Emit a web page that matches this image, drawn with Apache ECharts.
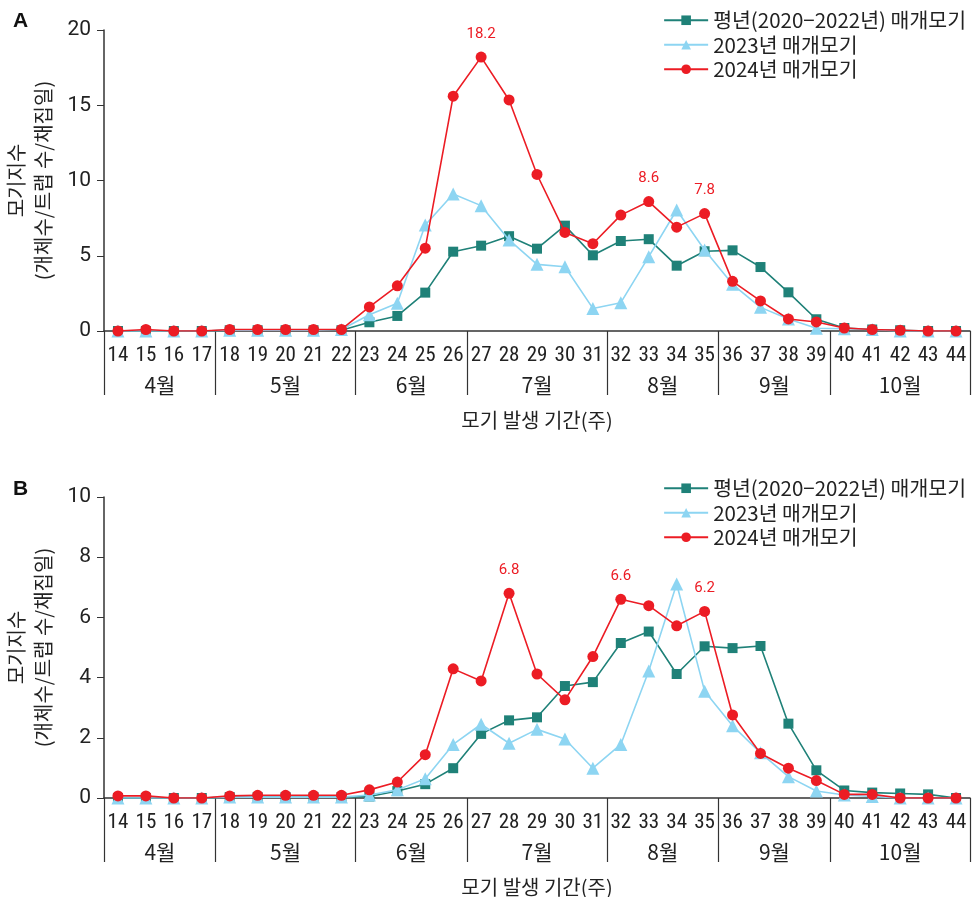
<!DOCTYPE html>
<html>
<head>
<meta charset="utf-8">
<script src="https://cdn.jsdelivr.net/npm/echarts@6/dist/echarts.min.js"></script>
<style>
  html, body { margin: 0; padding: 0; background: #fff; }
  #main { width: 973px; height: 897px; }
</style>
</head>
<body>
<div id="main"></div>
<script>
// 주차 (14~44주)
var weeks = ['14','15','16','17','18','19','20','21','22','23','24','25','26','27','28','29','30','31','32','33','34','35','36','37','38','39','40','41','42','43','44'];
// 월 구분
var monthNames = ['4월','5월','6월','7월','8월','9월','10월'];
var monthFirstWeek = [14, 18, 23, 27, 32, 36, 40];
var lastWeek = 44;

var seriesNames = ['평년(2020−2022년) 매개모기', '2023년 매개모기', '2024년 매개모기'];

// A: 모기지수
var avgA   = [0,0,0,0,0.05,0.05,0.05,0.05,0.05, 0.58,1.0,2.55,5.27,5.67,6.3,5.47,7.0,5.03,5.98,6.1,4.34,5.3,5.36,4.25,2.57,0.78,0.2,0.1,0.05,0,0];
var y2023A = [0,0,0,0,0.05,0.05,0.05,0.05,0.1, 1.08,1.84,7.04,9.1,8.33,6.05,4.43,4.27,1.5,1.88,4.94,8.04,5.38,3.1,1.57,0.8,0.18,0.15,0.1,0,0,0];
var y2024A = [0,0.1,0,0,0.1,0.1,0.1,0.1,0.1, 1.6,3.0,5.5,15.6,18.2,15.35,10.4,6.55,5.8,7.7,8.6,6.9,7.8,3.3,2.0,0.8,0.6,0.2,0.1,0.05,0,0];
var labelWeeksA = ['27','33','35'];

// B: 모기지수
var avgB   = [0,0,0,0,0.03,0.03,0.03,0.03,0.03, 0.05,0.23,0.46,0.99,2.13,2.58,2.68,3.72,3.85,5.15,5.53,4.12,5.04,4.98,5.05,2.47,0.92,0.25,0.18,0.15,0.12,0];
var y2023B = [0,0,0,0,0.03,0.03,0.03,0.03,0.03, 0.1,0.27,0.64,1.78,2.45,1.82,2.28,1.96,0.99,1.78,4.22,7.11,3.55,2.4,1.5,0.71,0.23,0.1,0.05,0,0,0];
var y2024B = [0.07,0.07,0,0,0.07,0.09,0.09,0.09,0.09, 0.27,0.53,1.44,4.29,3.89,6.8,4.12,3.26,4.7,6.6,6.39,5.72,6.2,2.76,1.48,0.99,0.58,0.12,0.12,0,0,0];
var labelWeeksB = ['28','32','35'];

var colors = ['#1f8178', '#8dd5f2', '#ec1c24'];
var symbols = ['rect', 'triangle', 'circle'];
var symbolSizes = [10, 13, 11];
var textColor = '#222';
var axisColor = '#333';
var cjk = '"Noto Sans CJK KR", "Noto Sans", sans-serif';
var narrow = '"Liberation Sans Narrow", "Roboto Condensed", Roboto, sans-serif';

// 월 경계와 월 라벨 위치 (주 단위 값축)
var monthBounds = [];
var monthCenters = [];
for (var i = 0; i < monthFirstWeek.length; i++) {
    var s = monthFirstWeek[i];
    var e = (i < monthFirstWeek.length - 1) ? monthFirstWeek[i + 1] - 1 : lastWeek;
    monthBounds.push(s - 0.5);
    monthCenters.push((s + e) / 2);
}
monthBounds.push(lastWeek + 0.5);

var option = {
    animation: false,
    backgroundColor: '#fff',
    title: [
        {text: 'A', left: 8, top: 6, textStyle: {fontSize: 21, fontWeight: 'bold', color: '#111', fontFamily: 'Arial, "Liberation Sans", sans-serif'}},
        {text: 'B', left: 8, top: 474, textStyle: {fontSize: 21, fontWeight: 'bold', color: '#111', fontFamily: 'Arial, "Liberation Sans", sans-serif'}}
    ],
    legend: [],
    grid: [],
    xAxis: [],
    yAxis: [],
    series: []
};

function makeData(values, labelWeeks) {
    var out = [];
    for (var i = 0; i < values.length; i++) {
        if (labelWeeks.indexOf(weeks[i]) >= 0) {
            out.push({value: values[i], label: {show: true}});
        } else {
            out.push(values[i]);
        }
    }
    return out;
}

function addPanel(idx, top, bottom, yMax, yInterval, dataSets, labelWeeks, legendTop) {
    option.grid.push({left: 104, right: 3, top: top, bottom: bottom, outerBoundsMode: 'none', containLabel: false});
    option.legend.push({
        orient: 'vertical',
        right: 2,
        top: legendTop,
        itemWidth: 44,
        itemHeight: 12,
        itemGap: 4,
        data: seriesNames,
        textStyle: {fontSize: 20.5, color: textColor, fontFamily: cjk}
    });
    // 주 축
    option.xAxis.push({
        type: 'category',
        gridIndex: idx,
        data: weeks,
        boundaryGap: true,
        axisLine: {lineStyle: {color: axisColor, width: 1.5}},
        axisTick: {interval: 0, length: 7, lineStyle: {color: axisColor}},
        axisLabel: {interval: 0, margin: 14, fontSize: 21, color: textColor, fontFamily: narrow}
    });
    // 월 축
    option.xAxis.push({
        type: 'value',
        gridIndex: idx,
        min: weeks[0] - 0.5,
        max: lastWeek + 0.5,
        position: 'bottom',
        axisLine: {show: false},
        splitLine: {show: false},
        axisTick: {show: true, customValues: monthBounds, length: 64, lineStyle: {color: axisColor, width: 1.2}},
        axisLabel: {
            customValues: monthCenters,
            margin: 44,
            fontSize: 21,
            color: textColor,
            fontFamily: cjk,
            formatter: function (v) {
                var k = monthCenters.indexOf(v);
                return k >= 0 ? monthNames[k] : '';
            }
        },
        name: '모기 발생 기간(주)',
        nameLocation: 'middle',
        nameGap: 79,
        nameTextStyle: {fontSize: 20, color: textColor, fontFamily: cjk}
    });
    option.yAxis.push({
        type: 'value',
        gridIndex: idx,
        min: 0,
        max: yMax,
        interval: yInterval,
        splitLine: {show: false},
        axisLine: {show: true, lineStyle: {color: axisColor, width: 1.5}},
        axisTick: {show: true, length: 7, lineStyle: {color: axisColor}},
        axisLabel: {fontSize: 21, color: textColor, margin: 13, fontFamily: 'Roboto, "Liberation Sans", sans-serif'},
        name: '모기지수\n(개체수/트랩 수/채집일)',
        nameLocation: 'middle',
        nameRotate: 90,
        nameGap: 47,
        nameTextStyle: {fontSize: 20, lineHeight: 27, color: textColor, fontFamily: cjk}
    });
    for (var s = 0; s < dataSets.length; s++) {
        option.series.push({
            name: seriesNames[s],
            type: 'line',
            xAxisIndex: idx * 2,
            yAxisIndex: idx,
            data: s == 2 ? makeData(dataSets[s], labelWeeks) : dataSets[s],
            symbol: symbols[s],
            symbolSize: symbolSizes[s],
            showAllSymbol: true,
            color: colors[s],
            lineStyle: {color: colors[s], width: 1.6},
            itemStyle: {color: colors[s]},
            label: {show: false, position: 'top', distance: 10, color: '#ec1c24', fontSize: 15, fontFamily: 'Roboto, sans-serif'},
            z: 2 + s
        });
    }
}

addPanel(0, 30, 566, 20, 5, [avgA, y2023A, y2024A], labelWeeksA, 5);
addPanel(1, 497, 99, 10, 2, [avgB, y2023B, y2024B], labelWeeksB, 473);

var chart = echarts.init(document.getElementById('main'));
chart.setOption(option);
</script>
</body>
</html>
